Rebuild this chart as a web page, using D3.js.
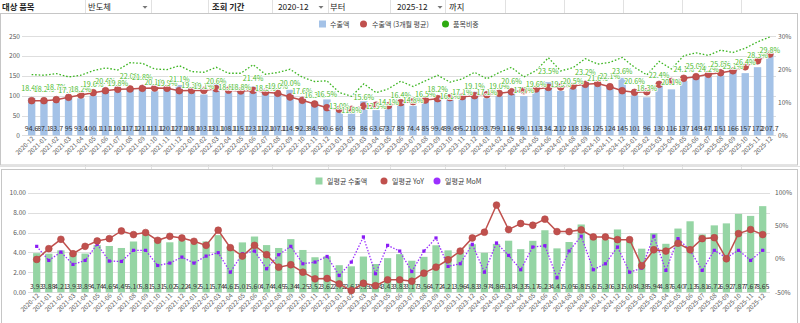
<!DOCTYPE html>
<html><head><meta charset="utf-8">
<script src="https://cdn.jsdelivr.net/npm/d3@7"></script>
<style>
body{margin:0;background:#fff;}
svg{display:block;font-family:"Noto Sans CJK KR","Noto Sans",sans-serif;}
</style></head>
<body><svg id="c" width="800" height="323"></svg>
<script>
// ---------- data ----------
const months = ["2020-12","2021-01","2021-02","2021-03","2021-04","2021-05","2021-06","2021-07","2021-08","2021-09","2021-10","2021-11","2021-12",
"2022-01","2022-02","2022-03","2022-04","2022-05","2022-06","2022-07","2022-08","2022-09","2022-10","2022-11","2022-12",
"2023-01","2023-02","2023-03","2023-04","2023-05","2023-06","2023-07","2023-08","2023-09","2023-10","2023-11","2023-12",
"2024-01","2024-02","2024-03","2024-04","2024-05","2024-06","2024-07","2024-08","2024-09","2024-10","2024-11","2024-12",
"2025-01","2025-02","2025-03","2025-04","2025-05","2025-06","2025-07","2025-08","2025-09","2025-10","2025-11","2025-12"];
// 수출액
const exportsVal = [94.6,87.1,83.7,95.0,93.4,100.1,111.0,110.1,117.1,121.1,111.1,120.1,127.1,108.1,103.1,131.1,108.1,115.1,123.1,112.1,107.1,114.9,92.3,84.5,90.6,
60,59,86,63.6,73.7,89,74.4,85.0,99.4,89.4,95.2,110,93.7,99.1,116.9,99.1,113,134.2,112,118,136,125,124,145,101,96,130,116,137,149,147.1,151,166,157,172,207.7];
// 수출액 (3개월 평균)
const exports3m = [87.4,87.4,90,96,101.8,107.6,112.6,116,117,118.6,119.4,118.6,112.6,113.4,113.4,117.7,114,112,113.4,109,106,96.7,88.4,79,69.7,
65.6,65.6,74,76,75,82.4,85,89,92.5,95,97.6,100,102.6,106,110,112.6,117,121,122,124.5,128.7,131,122.7,112.6,108.5,110,128.7,136,144,148,154,158,163,173,188,205];
// 품목비중 (%)
const sharePct = [18.4,18.2,18.7,17.7,18.2,19.6,20.4,19.8,22.0,21.8,20.1,19.9,21.1,19.3,19.1,20.6,18.8,18.8,21.4,18.5,19.0,20.0,17.6,16.3,16.5,
13.0,11.8,15.6,12.9,14.1,16.4,14.8,16.5,18.2,16.1,17.1,19.1,17.1,19.0,20.6,17.7,19.6,23.5,19.5,20.5,23.2,21.6,22.1,23.6,20.6,18.3,22.4,20.1,24.1,25.0,24.2,25.8,25.1,26.4,28.3,29.8];
// 일평균 수출액
const dailyAvg = [3.93,3.88,4.21,3.93,3.89,4.74,4.65,4.45,5.10,5.81,5.31,5.02,5.22,4.92,5.11,5.74,4.61,5.01,5.60,4.74,4.45,5.34,4.25,3.52,3.62,
2.72,2.61,3.59,2.84,3.43,3.83,3.17,3.56,4.72,4.21,3.96,4.83,3.97,4.86,5.18,4.33,5.17,6.23,4.41,5.05,6.81,5.61,5.30,6.31,5.08,4.38,5.94,4.87,6.40,7.13,5.81,6.72,6.92,7.87,7.67,8.65];
// 일평균 YoY (%)
const dailyYoY = [-0.5,15.7,29.8,8.1,19.2,27.3,30.8,42.4,36.9,40.0,28.3,34.3,31.8,26.8,20.7,43.5,17.2,4.5,20.7,6.6,-12.1,-8.5,-19.7,-29.7,-29.2,
-37.3,-47.4,-36.4,-40.0,-31.2,-31.2,-33.3,-21.2,-12.1,-1.0,12.1,31.8,40.5,81.4,44.5,53.6,51.0,60.2,41.4,41.4,44.0,33.4,33.4,29.3,29.3,-10.0,14.1,12.1,23.8,14.1,30.8,32.3,0.5,38.4,44.5,36.9];
// 일평균 MoM (%)
const dailyMoM = [19.2,-2,10.6,-8,-2,22.3,-3,-3.5,13.2,13.2,-9.6,-6,3,-6,4.5,9.6,-19.7,8.1,12.1,-14.6,6.6,19.2,-7,-4.5,4,
-24.7,-4.5,33.4,-22,20.7,12.1,-18.7,12.1,31.8,-11,-7,22.3,-19.7,24.3,5.6,-16,18.2,20.2,-28.2,12.1,34.4,-16,-7,18.2,-19.7,-13.6,34.4,-17.1,30.8,13.2,-17.1,13.2,2.1,13.2,-2,13.2];

const topTicksL = [0,50,100,150,200,250];
const topTicksR = [0,10,20,30];
const botTicksL = [0,2,4,6,8,10];
const botTicksR = [-50,0,50,100];

const headerCells = [
  {t:"대상 품목", x:2, b:true},{t:"반도체", x:88},{t:"조회 기간", x:212, b:true},
  {t:"2020-12", x:278},{t:"부터", x:330},{t:"2025-12", x:397},{t:"까지", x:449}];
const headerArrows = [145,321,440];
const sheetCols = [85,151,208,272,328,390,445,505,564,623,682,741];

// ---------- colours ----------
const C = {blue:"#a4c2e7", red:"#c0504d", green:"#3cb521", greenLbl:"#4cbb2e", gbar:"#95d5a4", purple:"#9b30ff", grid:"#dedede", axis:"#595959"};

const svg = d3.select("#c");

// sheet background grid
svg.append("g").selectAll("line").data(sheetCols).join("line")
  .attr("x1",d=>d+0.5).attr("x2",d=>d+0.5).attr("y1",0).attr("y2",323)
  .attr("stroke","#e1e1e1");
svg.append("line").attr("x1",0).attr("x2",800).attr("y1",166.5).attr("y2",166.5).attr("stroke","#e1e1e1");

// header
const hdr = svg.append("g");
hdr.selectAll("text").data(headerCells).join("text")
  .attr("x",d=>d.x).attr("y",10).attr("font-size",8.3)
  .attr("font-weight",d=>d.b?600:400).attr("fill","#222").text(d=>d.t);
hdr.selectAll("path").data(headerArrows).join("path")
  .attr("d",d=>`M${d-2.5},6 L${d+2.5},6 L${d},8.8 Z`).attr("fill","#777");

// chart frames
svg.append("rect").attr("x",0.5).attr("y",13.5).attr("width",797).attr("height",151.5)
  .attr("fill","#fff").attr("stroke","#c6c6c6");
svg.append("rect").attr("x",1.5).attr("y",169.5).attr("width",796).attr("height",160)
  .attr("fill","#fff").attr("stroke","#c6c6c6");

// ================= TOP CHART =================
const xT = d3.scaleBand().domain(months).range([25.5,776]).paddingInner(0.4).paddingOuter(0.2);
const yT = d3.scaleLinear().domain([0,250]).range([135.3,36.3]);
const yTR = d3.scaleLinear().domain([0,30]).range([135.3,36.3]);
const cxT = d => xT(d)+xT.bandwidth()/2;
const topG = svg.append("g");

topG.append("g").selectAll("line").data(topTicksL).join("line")
  .attr("x1",22).attr("x2",776).attr("y1",d=>Math.round(yT(d))+0.5).attr("y2",d=>Math.round(yT(d))+0.5)
  .attr("stroke",C.grid);
topG.append("g").selectAll("text").data(topTicksL).join("text")
  .attr("x",20).attr("y",d=>yT(d)+2.3).attr("text-anchor","end").attr("font-size",6.6).attr("fill",C.axis).text(d=>d);
topG.append("g").selectAll("text").data(topTicksR).join("text")
  .attr("x",778).attr("y",d=>yTR(d)+2.3).attr("font-size",6.6).attr("fill",C.axis).text(d=>d+"%");

// bars
topG.append("g").selectAll("rect").data(months).join("rect")
  .attr("x",d=>xT(d)).attr("width",xT.bandwidth())
  .attr("y",(d,i)=>yT(exportsVal[i])).attr("height",(d,i)=>yT(0)-yT(exportsVal[i]))
  .attr("fill",C.blue);
// bar labels
topG.append("g").selectAll("text").data(months).join("text")
  .attr("x",d=>cxT(d)).attr("y",130.5).attr("text-anchor","middle").attr("font-size",7).attr("fill","#333")
  .text((d,i)=>Number.isInteger(exportsVal[i])?exportsVal[i]:exportsVal[i].toFixed(1));

// x labels
topG.append("g").selectAll("text").data(months).join("text")
  .attr("transform",d=>`translate(${cxT(d)+3},${139}) rotate(-45)`)
  .attr("text-anchor","end").attr("font-size",6.3).attr("fill",C.axis).text(d=>d);

// red 3m avg
const lineT = d3.line().x((d,i)=>cxT(months[i])).y(d=>yT(d));
topG.append("path").datum(exports3m).attr("d",lineT).attr("fill","none").attr("stroke",C.red).attr("stroke-width",1.5);
topG.append("g").selectAll("circle").data(exports3m).join("circle")
  .attr("cx",(d,i)=>cxT(months[i])).attr("cy",d=>yT(d)).attr("r",3.4).attr("fill",C.red).attr("stroke","#b44744").attr("stroke-width",0.6);

// green share
const lineS = d3.line().x((d,i)=>cxT(months[i])).y(d=>yTR(d));
topG.append("path").datum(sharePct).attr("d",lineS).attr("fill","none").attr("stroke",C.green)
  .attr("stroke-width",1.3).attr("stroke-dasharray","1.6,1.9");
topG.append("g").selectAll("text").data(sharePct).join("text")
  .attr("x",(d,i)=>cxT(months[i])).attr("y",d=>yTR(d)+16.5).attr("text-anchor","middle")
  .attr("font-size",7.2).attr("fill",C.greenLbl)
  .attr("stroke","#fff").attr("stroke-width",1.6).attr("paint-order","stroke")
  .text(d=>d.toFixed(1)+"%");

// top legend
const lgT = topG.append("g").attr("font-size",7).attr("fill","#404040");
lgT.append("rect").attr("x",319).attr("y",20.5).attr("width",7).attr("height",7).attr("fill",C.blue);
lgT.append("text").attr("x",330).attr("y",26.5).text("수출액");
lgT.append("circle").attr("cx",363.5).attr("cy",24).attr("r",3.5).attr("fill",C.red);
lgT.append("text").attr("x",372).attr("y",26.5).text("수출액 (3개월 평균)");
lgT.append("circle").attr("cx",445.5).attr("cy",24).attr("r",3.5).attr("fill","#2eaa10");
lgT.append("text").attr("x",453).attr("y",26.5).text("품목비중");

// ================= BOTTOM CHART =================
const xB = d3.scaleBand().domain(months).range([30.65,768.75]).paddingInner(0.4).paddingOuter(0.2);
const yB = d3.scaleLinear().domain([0,10]).range([292.3,192.7]);
const yBR = d3.scaleLinear().domain([-50,100]).range([292.3,192.7]);
const cxB = d => xB(d)+xB.bandwidth()/2;
const botG = svg.append("g");

botG.append("g").selectAll("line").data(botTicksL).join("line")
  .attr("x1",28).attr("x2",770).attr("y1",d=>Math.round(yB(d))+0.5).attr("y2",d=>Math.round(yB(d))+0.5)
  .attr("stroke",C.grid);
botG.append("g").selectAll("text").data(botTicksL).join("text")
  .attr("x",26).attr("y",d=>yB(d)+2.3).attr("text-anchor","end").attr("font-size",6.6).attr("fill",C.axis).text(d=>d.toFixed(2));
botG.append("g").selectAll("text").data(botTicksR).join("text")
  .attr("x",775).attr("y",d=>yBR(d)+2.3).attr("font-size",6.6).attr("fill",C.axis).text(d=>d+"%");

botG.append("g").selectAll("rect").data(months).join("rect")
  .attr("x",d=>xB(d)).attr("width",xB.bandwidth())
  .attr("y",(d,i)=>yB(dailyAvg[i])).attr("height",(d,i)=>yB(0)-yB(dailyAvg[i]))
  .attr("fill",C.gbar);
botG.append("g").selectAll("text").data(months).join("text")
  .attr("x",d=>cxB(d)).attr("y",288.5).attr("text-anchor","middle").attr("font-size",7).attr("fill","#333")
  .text((d,i)=>dailyAvg[i].toFixed(2));

botG.append("g").selectAll("text").data(months).join("text")
  .attr("transform",d=>`translate(${cxB(d)+3},${296}) rotate(-45)`)
  .attr("text-anchor","end").attr("font-size",6.3).attr("fill",C.axis).text(d=>d);

// MoM purple
const lineM = d3.line().x((d,i)=>cxB(months[i])).y(d=>yBR(d));
botG.append("path").datum(dailyMoM).attr("d",lineM).attr("fill","none").attr("stroke",C.purple)
  .attr("stroke-width",1.3).attr("stroke-dasharray","1.5,1.6");
botG.append("g").selectAll("rect").data(dailyMoM).join("rect")
  .attr("x",(d,i)=>cxB(months[i])-1.6).attr("y",d=>yBR(d)-1.6).attr("width",3.2).attr("height",3.2).attr("fill","#8a1cf5");

// YoY red
botG.append("path").datum(dailyYoY).attr("d",lineM).attr("fill","none").attr("stroke",C.red).attr("stroke-width",1.5);
botG.append("g").selectAll("circle").data(dailyYoY).join("circle")
  .attr("cx",(d,i)=>cxB(months[i])).attr("cy",d=>yBR(d)).attr("r",3.4).attr("fill",C.red).attr("stroke","#b44744").attr("stroke-width",0.6);

// bottom legend
const lgB = botG.append("g").attr("font-size",7).attr("fill","#404040");
lgB.append("rect").attr("x",315.5).attr("y",177.5).attr("width",7).attr("height",7).attr("fill",C.gbar);
lgB.append("text").attr("x",327).attr("y",183.5).text("일평균 수출액");
lgB.append("circle").attr("cx",384).attr("cy",181).attr("r",3.5).attr("fill",C.red);
lgB.append("text").attr("x",392).attr("y",183.5).text("일평균 YoY");
lgB.append("circle").attr("cx",437).attr("cy",181).attr("r",3.5).attr("fill",C.purple);
lgB.append("text").attr("x",445).attr("y",183.5).text("일평균 MoM");
</script>
</body></html>
